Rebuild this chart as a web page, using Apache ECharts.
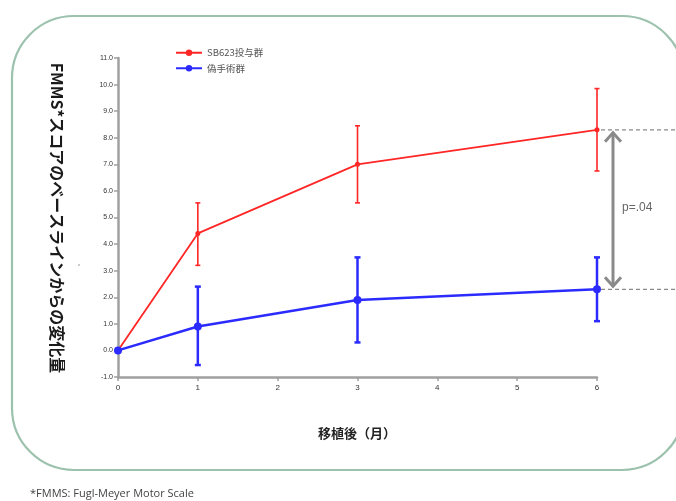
<!DOCTYPE html>
<html><head><meta charset="utf-8">
<script src="https://cdn.jsdelivr.net/npm/echarts@6/dist/echarts.min.js"></script>
<style>html,body{margin:0;padding:0;background:#fff}#c{width:676px;height:501px}</style>
</head><body><div id="c"></div>
<script>
const months = [0, 1, 3, 6];
const sbMean = [0, 4.4, 7.0, 8.3];
const sbLow = [0, 3.2, 5.55, 6.75];
const sbHigh = [0, 5.55, 8.45, 9.85];
const shamMean = [0, 0.9, 1.9, 2.3];
const shamLow = [0, -0.55, 0.3, 1.1];
const shamHigh = [0, 2.4, 3.5, 3.5];
const seriesNames = ['SB623投与群', '偽手術群'];
const pLabel = 'p=.04';
const xTitle = '移植後（月）';
const yTitle = 'FMMS*スコアのベースラインからの変化量';
const footnote = '*FMMS: Fugl-Meyer Motor Scale';

const RED = '#ff2626', BLUE = '#2b2bff';
const chart = echarts.init(document.getElementById('c'));

function errSeries(name, low, high, color, lw, cap) {
  return {
    type: 'custom', name: name, silent: true, z: 3,
    data: months.map((m, i) => [m, low[i], high[i]]).filter(d => d[1] !== d[2]),
    renderItem: function (params, api) {
      const x = api.value(0);
      const p1 = api.coord([x, api.value(1)]);
      const p2 = api.coord([x, api.value(2)]);
      const st = { stroke: color, lineWidth: lw };
      return { type: 'group', children: [
        { type: 'line', shape: { x1: p1[0], y1: p1[1], x2: p2[0], y2: p2[1] }, style: st },
        { type: 'line', shape: { x1: p1[0] - cap, y1: p1[1], x2: p1[0] + cap, y2: p1[1] }, style: st },
        { type: 'line', shape: { x1: p2[0] - cap, y1: p2[1], x2: p2[0] + cap, y2: p2[1] }, style: st }
      ]};
    }
  };
}

chart.setOption({
  animation: false,
  grid: { left: 118, right: 79, top: 58, bottom: 124 },
  legend: {
    orient: 'vertical', left: 170, top: 43, itemGap: 6, itemWidth: 26, itemHeight: 8,
    textStyle: { fontSize: 9.5, color: '#555', fontFamily: 'Noto Sans CJK JP' },
    data: seriesNames
  },
  xAxis: {
    type: 'value', min: 0, max: 6, interval: 1,
    splitLine: { show: false },
    axisLine: { onZero: false, lineStyle: { color: '#a0a0a0', width: 2.5 } },
    axisTick: { show: true, length: 4, lineStyle: { color: '#a0a0a0', width: 1.5 } },
    axisLabel: { fontSize: 8, color: '#333', margin: 7 }
  },
  yAxis: {
    type: 'value', min: -1, max: 11, interval: 1,
    splitLine: { show: false },
    axisLine: { show: true, lineStyle: { color: '#a0a0a0', width: 2.5 } },
    axisTick: { show: true, length: 4, lineStyle: { color: '#a0a0a0', width: 1.5 } },
    axisLabel: { fontSize: 7, color: '#333', margin: 5, formatter: v => v.toFixed(1) }
  },
  series: [
    { name: seriesNames[0], type: 'line', data: months.map((m, i) => [m, sbMean[i]]),
      color: RED, symbol: 'circle', symbolSize: 5, lineStyle: { width: 1.8, color: RED },
      itemStyle: { color: RED }, z: 4 },
    { name: seriesNames[1], type: 'line', data: months.map((m, i) => [m, shamMean[i]]),
      color: BLUE, symbol: 'circle', symbolSize: 8, lineStyle: { width: 2.5, color: BLUE },
      itemStyle: { color: BLUE }, z: 5 },
    errSeries(seriesNames[0], sbLow, sbHigh, RED, 1.6, 2.5),
    errSeries(seriesNames[1], shamLow, shamHigh, BLUE, 2.5, 3)
  ]
});

const top6 = chart.convertToPixel({ gridIndex: 0 }, [6, sbMean[3]]);
const bot6 = chart.convertToPixel({ gridIndex: 0 }, [6, shamMean[3]]);
const ax = top6[0] + 16;
const dashStyle = { stroke: '#8a8a8a', lineWidth: 1.3, lineDash: [4, 3] };
const arrowStyle = { stroke: '#8a8a8a', lineWidth: 3, fill: null };
chart.setOption({
  graphic: [
    { type: 'rect', shape: { x: 12, y: 16, width: 672, height: 454, r: 62 },
      style: { fill: null, stroke: '#9cc2ae', lineWidth: 2.2 }, silent: true },
    { type: 'line', shape: { x1: top6[0] + 4, y1: top6[1], x2: 676, y2: top6[1] }, style: dashStyle },
    { type: 'line', shape: { x1: bot6[0] + 4, y1: bot6[1], x2: 676, y2: bot6[1] }, style: dashStyle },
    { type: 'line', shape: { x1: ax, y1: top6[1] + 3, x2: ax, y2: bot6[1] - 3 }, style: arrowStyle },
    { type: 'polyline', shape: { points: [[ax - 8, top6[1] + 12], [ax, top6[1] + 3], [ax + 8, top6[1] + 12]] }, style: arrowStyle },
    { type: 'polyline', shape: { points: [[ax - 8, bot6[1] - 12], [ax, bot6[1] - 3], [ax + 8, bot6[1] - 12]] }, style: arrowStyle },
    { type: 'text', x: ax + 9, y: (top6[1] + bot6[1]) / 2 - 2,
      style: { text: pLabel, fontSize: 12, fill: '#666', fontFamily: 'Liberation Sans', verticalAlign: 'middle' } },
    { type: 'text', x: 357, y: 433,
      style: { text: xTitle, fontSize: 13, fontWeight: 'bold', fill: '#222', fontFamily: 'Noto Sans CJK JP', align: 'center', verticalAlign: 'middle' } },
    { type: 'text', x: 57, y: 218, rotation: -Math.PI / 2,
      style: { text: yTitle, fontSize: 16, fontWeight: 'bold', fill: '#1a1a1a', fontFamily: 'Noto Sans CJK JP', align: 'center', verticalAlign: 'middle' } },
    { type: 'circle', shape: { cx: 79, cy: 265, r: 0.8 }, style: { fill: '#888' } },
    { type: 'text', x: 30, y: 494,
      style: { text: footnote, fontSize: 11, fill: '#444', fontFamily: 'Open Sans', verticalAlign: 'middle' } }
  ]
});
</script></body></html>
